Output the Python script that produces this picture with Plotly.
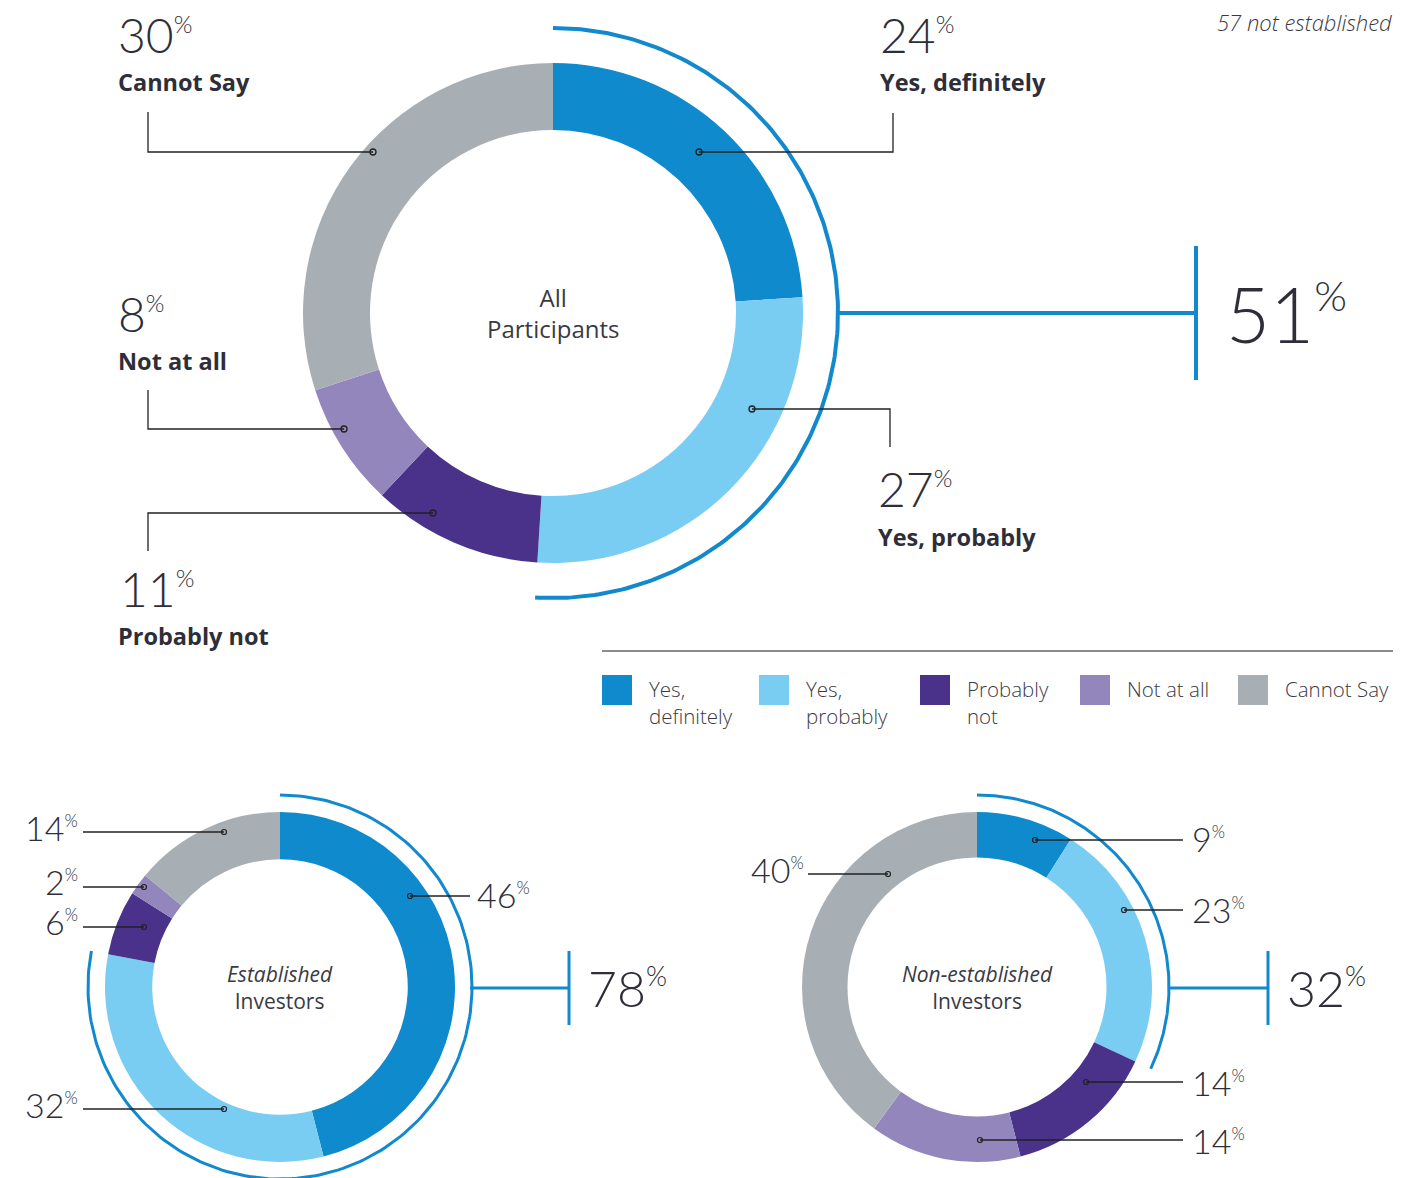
import numpy as np
import plotly.graph_objs as go

W, H = 1427, 1178
OFF = 8  # page body margin

categories = ["Yes, definitely", "Yes, probably", "Probably not", "Not at all", "Cannot Say"]
legend_text = ["Yes,<br>definitely", "Yes,<br>probably", "Probably<br>not", "Not at all", "Cannot Say"]
colors = ["#0f8acd", "#7acdf2", "#4a328b", "#9386bd", "#a8afb4"]

all_participants = [24, 27, 11, 8, 30]
established = [46, 32, 6, 2, 14]
non_established = [9, 23, 14, 14, 40]

DARK = "#2e2e38"
BLUE = "#1289cc"
NUM_FONT = "Lato, Open Sans, sans-serif"
TXT_FONT = "Open Sans, Lato, sans-serif"

FW, FH = W - OFF, H - OFF

fig = go.Figure()

# donut geometry: center x, center y, outer radius, hole, arc radius
donuts = [
    dict(values=all_participants, cx=553, cy=313, r=250, hole=0.732, arc_r=285, arc_w=4,
         title="All<br>Participants", tsize=24),
    dict(values=established, cx=280, cy=987, r=175, hole=0.73, arc_r=192, arc_w=3,
         title="<i>Established</i><br>Investors", tsize=21),
    dict(values=non_established, cx=977, cy=987, r=175, hole=0.74, arc_r=192, arc_w=3,
         title="<i>Non-established</i><br>Investors", tsize=21),
]

for d in donuts:
    cx, cy = d["cx"] - OFF, d["cy"] - OFF
    fig.add_trace(go.Pie(
        values=d["values"], labels=categories, sort=False, direction="clockwise", rotation=0,
        hole=d["hole"], marker=dict(colors=colors, line=dict(width=0)),
        textinfo="none", hoverinfo="label+percent", showlegend=False,
        domain=dict(x=[(cx - d["r"]) / FW, (cx + d["r"]) / FW],
                    y=[1 - (cy + d["r"]) / FH, 1 - (cy - d["r"]) / FH]),
    ))
    # outer arc spanning the "yes" share
    share = (d["values"][0] + d["values"][1]) / sum(d["values"])
    t = np.linspace(0, share * 2 * np.pi, 200)
    fig.add_trace(go.Scatter(
        x=d["cx"] + d["arc_r"] * np.sin(t), y=d["cy"] - d["arc_r"] * np.cos(t),
        mode="lines", line=dict(color=BLUE, width=d["arc_w"]), hoverinfo="skip", showlegend=False,
    ))
    fig.add_annotation(x=d["cx"], y=d["cy"], text=d["title"], showarrow=False,
                       font=dict(family=TXT_FONT, size=d["tsize"], color="#3a3a44"),
                       xanchor="center", yanchor="middle")


def pct(v, psize):
    return f"{v}<sup><span style='font-size:{psize}px'>%</span></sup>"


# connectors to the big totals
totals = [
    dict(x0=838, x1=1196, y=313, half=67, w=4, tx=1224, size=76, psize=42),
    dict(x0=470, x1=569, y=988, half=37, w=3, tx=586, size=50, psize=27),
    dict(x0=1168, x1=1268, y=988, half=37, w=3, tx=1285, size=50, psize=27),
]
for d, tt in zip(donuts, totals):
    tot = d["values"][0] + d["values"][1]
    fig.add_shape(type="line", x0=tt["x0"], x1=tt["x1"], y0=tt["y"], y1=tt["y"],
                  line=dict(color=BLUE, width=tt["w"]))
    fig.add_shape(type="line", x0=tt["x1"], x1=tt["x1"], y0=tt["y"] - tt["half"], y1=tt["y"] + tt["half"],
                  line=dict(color=BLUE, width=tt["w"]))
    fig.add_annotation(x=tt["tx"], y=tt["y"], text=pct(tot, tt["psize"]), showarrow=False,
                       xanchor="left", yanchor="middle",
                       font=dict(family=NUM_FONT, size=tt["size"], color=DARK, weight=300))

# main donut labels: value pos, name pos, leader polyline
main_labels = [
    dict(i=4, nx=116, ny=34, lx=116, ly=82, pts=[(148, 112), (148, 152), (373, 152)]),
    dict(i=0, nx=878, ny=34, lx=878, ly=82, pts=[(893, 113), (893, 152), (699, 152)]),
    dict(i=1, nx=876, ny=488, lx=876, ly=537, pts=[(890, 447), (890, 409), (752, 409)]),
    dict(i=3, nx=116, ny=313, lx=116, ly=361, pts=[(148, 390), (148, 429), (344, 429)]),
    dict(i=2, nx=118, ny=588, lx=116, ly=636, pts=[(148, 551), (148, 513), (433, 513)]),
]
for m in main_labels:
    fig.add_annotation(x=m["nx"], y=m["ny"], text=pct(all_participants[m["i"]], 24), showarrow=False,
                       xanchor="left", yanchor="middle",
                       font=dict(family=NUM_FONT, size=48, color=DARK, weight=300))
    fig.add_annotation(x=m["lx"], y=m["ly"], text=categories[m["i"]], showarrow=False,
                       xanchor="left", yanchor="middle",
                       font=dict(family=TXT_FONT, size=23.5, color=DARK, weight=700))
    p = m["pts"]
    path = "M " + " L ".join(f"{x},{y}" for x, y in p)
    fig.add_shape(type="path", path=path, line=dict(color="#222", width=1.3))
    ex, ey = p[-1]
    fig.add_shape(type="circle", x0=ex - 3, x1=ex + 3, y0=ey - 3, y1=ey + 3,
                  line=dict(color="#222", width=1.3), fillcolor="rgba(0,0,0,0)")

# bottom donut labels: series, index, text x, text y, anchor, leader x0, x1, y
small_labels = [
    (established, 4, 80, 827, "right", 83, 224, 832),
    (established, 3, 80, 881, "right", 83, 144, 887),
    (established, 2, 80, 921, "right", 83, 144, 927),
    (established, 1, 80, 1104, "right", 83, 224, 1109),
    (established, 0, 475, 894, "left", 410, 470, 896),
    (non_established, 4, 806, 869, "right", 808, 888, 874),
    (non_established, 0, 1190, 838, "left", 1035, 1183, 840),
    (non_established, 1, 1190, 909, "left", 1124, 1183, 910),
    (non_established, 2, 1190, 1082, "left", 1086, 1183, 1082),
    (non_established, 3, 1190, 1140, "left", 980, 1183, 1140),
]
for vals, i, tx, ty, anc, x0, x1, ly in small_labels:
    fig.add_annotation(x=tx, y=ty, text=pct(vals[i], 17), showarrow=False,
                       xanchor=anc, yanchor="middle",
                       font=dict(family=NUM_FONT, size=34, color=DARK, weight=300))
    fig.add_shape(type="line", x0=x0, x1=x1, y0=ly, y1=ly, line=dict(color="#222", width=1.3))
    ex = x1 if anc == "right" else x0
    fig.add_shape(type="circle", x0=ex - 2.5, x1=ex + 2.5, y0=ly - 2.5, y1=ly + 2.5,
                  line=dict(color="#222", width=1.2), fillcolor="rgba(0,0,0,0)")

# legend
fig.add_shape(type="line", x0=602, x1=1393, y0=651, y1=651, line=dict(color="#666", width=1.5))
legend_x = [602, 759, 920, 1080, 1238]
for x, c, t in zip(legend_x, colors, legend_text):
    fig.add_shape(type="rect", x0=x, x1=x + 30, y0=675, y1=705, fillcolor=c, line=dict(width=0))
    fig.add_annotation(x=x + 45, y=673, text=t, showarrow=False, xanchor="left", yanchor="top", align="left",
                       font=dict(family=TXT_FONT, size=20.5, color="#3a3a44", weight=300))

fig.add_annotation(x=1394, y=22, text="<i>57 not established</i>", showarrow=False,
                   xanchor="right", yanchor="middle",
                   font=dict(family=TXT_FONT, size=22, color="#3a3a44", weight=300))

fig.update_layout(
    width=FW, height=FH, margin=dict(l=0, r=0, t=0, b=0),
    paper_bgcolor="white", plot_bgcolor="white", showlegend=False,
    xaxis=dict(range=[OFF, W], visible=False, fixedrange=True),
    yaxis=dict(range=[H, OFF], visible=False, fixedrange=True),
)

fig.write_html("out.html")
